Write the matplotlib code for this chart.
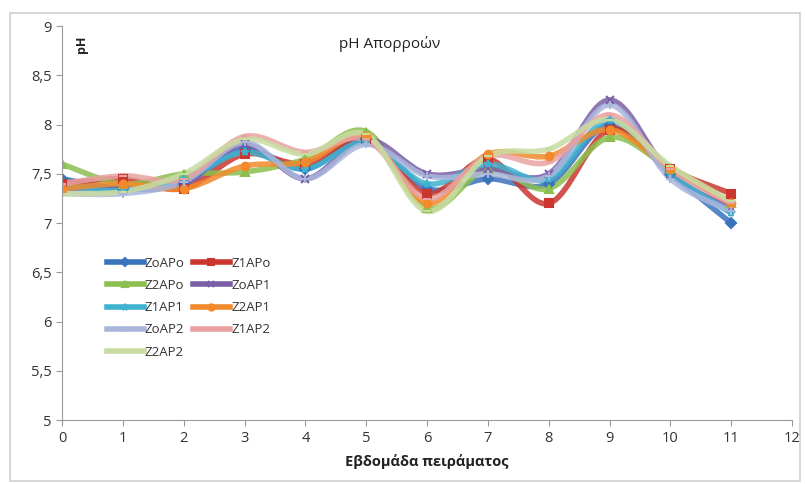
import numpy as np
import matplotlib
matplotlib.use('Agg')
import matplotlib.pyplot as plt
from matplotlib.path import Path
from matplotlib.patches import PathPatch, Rectangle
from matplotlib.lines import Line2D
from matplotlib.ticker import FuncFormatter, MultipleLocator

plt.rcParams['font.family'] = ['Open Sans', 'DejaVu Sans']

# Εβδομάδες πειράματος
weeks = [0, 1, 2, 3, 4, 5, 6, 7, 8, 9, 10, 11]

# pH απορροών ανά μεταχείριση
ZoAPo = [7.45, 7.35, 7.40, 7.75, 7.55, 7.85, 7.35, 7.45, 7.40, 8.00, 7.50, 7.00]
Z1APo = [7.40, 7.45, 7.35, 7.70, 7.60, 7.85, 7.30, 7.65, 7.20, 7.95, 7.55, 7.30]
Z2APo = [7.60, 7.40, 7.50, 7.52, 7.65, 7.93, 7.15, 7.55, 7.35, 7.87, 7.55, 7.20]
ZoAP1 = [7.35, 7.35, 7.40, 7.80, 7.45, 7.85, 7.50, 7.55, 7.50, 8.25, 7.50, 7.15]
Z1AP1 = [7.38, 7.33, 7.45, 7.72, 7.55, 7.82, 7.40, 7.60, 7.45, 8.05, 7.50, 7.10]
Z2AP1 = [7.35, 7.40, 7.35, 7.58, 7.62, 7.88, 7.20, 7.70, 7.68, 7.95, 7.55, 7.20]
ZoAP2 = [7.30, 7.30, 7.42, 7.82, 7.45, 7.80, 7.48, 7.50, 7.48, 8.20, 7.45, 7.12]
Z1AP2 = [7.40, 7.48, 7.45, 7.88, 7.72, 7.85, 7.25, 7.68, 7.62, 8.10, 7.55, 7.20]
Z2AP2 = [7.30, 7.32, 7.50, 7.85, 7.70, 7.90, 7.12, 7.68, 7.75, 8.05, 7.58, 7.22]

names = ['ZoAPo', 'Z1APo', 'Z2APo', 'ZoAP1', 'Z1AP1', 'Z2AP1', 'ZoAP2', 'Z1AP2', 'Z2AP2']
series = [ZoAPo, Z1APo, Z2APo, ZoAP1, Z1AP1, Z2AP1, ZoAP2, Z1AP2, Z2AP2]
colors = ['#3a73bb', '#c9372f', '#8cbf4f', '#7b5ea6', '#3eb2cf', '#f28a2b',
          '#a9b6dc', '#e9a2a1', '#c8dca2']
markers = ['D', 's', '^', 'x', '*', 'o', '+', '_', '_']


def smooth_path(x, y):
    # καμπύλη Bezier μέσω των σημείων (όπως η "smoothed line" του Excel)
    pts = np.column_stack([x, y]).astype(float)
    n = len(pts)
    verts = [pts[0]]
    codes = [Path.MOVETO]
    for i in range(n - 1):
        p0 = pts[i - 1] if i > 0 else pts[i]
        p1 = pts[i]
        p2 = pts[i + 1]
        p3 = pts[i + 2] if i + 2 < n else pts[i + 1]
        c1 = p1 + (p2 - p0) / 6.0
        c2 = p2 - (p3 - p1) / 6.0
        verts += [c1, c2, p2]
        codes += [Path.CURVE4] * 3
    return Path(verts, codes)


fig = plt.figure(figsize=(8.05, 4.84), dpi=100)
ax = fig.add_axes([0.077, 0.132, 0.907, 0.814])

for vals, c, m in zip(series, colors, markers):
    ax.add_patch(PathPatch(smooth_path(weeks, vals), fill=False,
                           edgecolor=c, lw=4, alpha=0.85, capstyle='round',
                           joinstyle='round'))
    ax.plot(weeks, vals, linestyle='none', marker=m, color=c, ms=5.5, mew=1.5)

ax.set_xlim(0, 12)
ax.set_ylim(5, 9)
ax.xaxis.set_major_locator(MultipleLocator(1))
ax.yaxis.set_major_locator(MultipleLocator(0.5))
ax.yaxis.set_major_formatter(FuncFormatter(lambda v, p: ('%g' % v).replace('.', ',')))

for s in ['top', 'right']:
    ax.spines[s].set_visible(False)
for s in ['left', 'bottom']:
    ax.spines[s].set_color('#9a9a9a')
ax.tick_params(colors='#9a9a9a', labelcolor='#333333', labelsize=10.5, length=4)

ax.text(0.449, 0.955, 'pH Απορροών', transform=ax.transAxes, ha='center',
        va='center', fontsize=11, color='#222222')
ax.text(0.027, 0.955, 'pH', transform=ax.transAxes, rotation=90, ha='center',
        va='center', fontsize=9, fontweight='bold', color='#222222')
ax.set_xlabel('Εβδομάδα πειράματος', fontsize=10.5, fontweight='bold',
              color='#222222', labelpad=6)

handles = [Line2D([], [], color=c, lw=4, marker=m, ms=4.5, mew=1.5)
           for c, m in zip(colors, markers)]
order = [0, 2, 4, 6, 8, 1, 3, 5, 7]
ax.legend([handles[i] for i in order], [names[i] for i in order], ncol=2,
          frameon=False, loc='upper left', bbox_to_anchor=(0.045, 0.445),
          fontsize=9.5, handlelength=2.8, handletextpad=0.1, columnspacing=0.6,
          labelspacing=0.7, labelcolor='#333333')

fig.patches.append(Rectangle((0.012, 0.006), 0.982, 0.968, transform=fig.transFigure,
                             fill=False, edgecolor='#d0d0d0', lw=1.2))

fig.savefig('out.png', dpi=100)
